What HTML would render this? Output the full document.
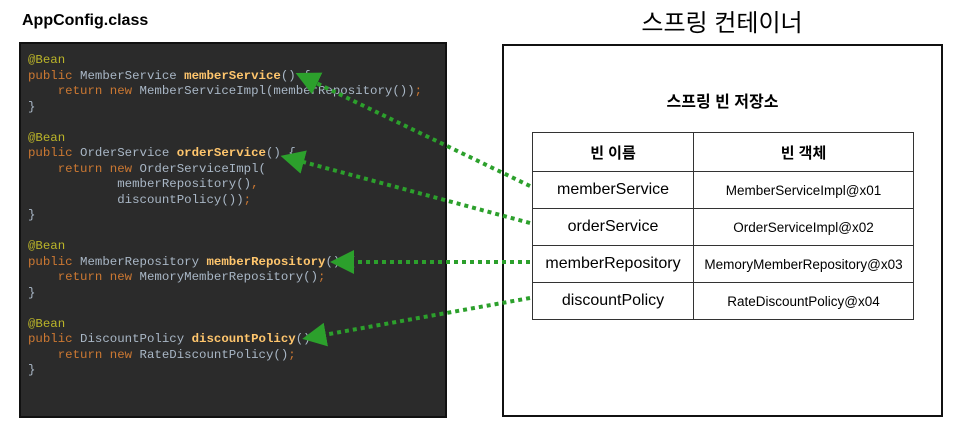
<!DOCTYPE html>
<html><head><meta charset="utf-8"><style>
body{margin:0;width:980px;height:438px;background:#fff;position:relative;overflow:hidden;font-family:"Liberation Sans","Noto Sans CJK KR",sans-serif}
.code{position:absolute;left:19px;top:42px;width:424px;height:372px;background:#2b2b2b;border:2px solid #111}
pre{margin:0;position:absolute;left:7px;top:9px;font-family:"Liberation Mono",monospace;font-size:12.4px;line-height:15.5px;color:#a9b7c6}
.a{color:#bbb529}.k{color:#cc7832}.f{color:#ffc66d;font-weight:bold}
.title{position:absolute;left:22px;top:12px;font-weight:bold;font-size:16px}
.ct{position:absolute;left:600px;top:3px;width:244px;text-align:center;font-size:24px}
.box{position:absolute;left:502px;top:44px;width:437px;height:369px;border:2px solid #111}
.sub{position:absolute;left:532px;top:88px;width:381px;text-align:center;font-weight:bold;font-size:16px}
table{position:absolute;left:532px;top:132px;width:382px;border-collapse:collapse}
td{border:1.5px solid #333;height:36px;text-align:center;padding:0}
td.n{width:160px;font-size:16px}td.v{font-size:13.5px}
th{border:1.5px solid #333;height:36px;font-size:15px}
svg{position:absolute;left:0;top:0}
</style></head><body>
<div class="title">AppConfig.class</div>
<div class="code"><pre><span class="a">@Bean</span>
<span class="k">public</span> MemberService <span class="f">memberService</span>() {
    <span class="k">return new</span> MemberServiceImpl(memberRepository())<span class="k">;</span>
}

<span class="a">@Bean</span>
<span class="k">public</span> OrderService <span class="f">orderService</span>() {
    <span class="k">return new</span> OrderServiceImpl(
            memberRepository()<span class="k">,</span>
            discountPolicy())<span class="k">;</span>
}

<span class="a">@Bean</span>
<span class="k">public</span> MemberRepository <span class="f">memberRepository</span>() {
    <span class="k">return new</span> MemoryMemberRepository()<span class="k">;</span>
}

<span class="a">@Bean</span>
<span class="k">public</span> DiscountPolicy <span class="f">discountPolicy</span>() {
    <span class="k">return new</span> RateDiscountPolicy()<span class="k">;</span>
}</pre></div>
<div class="ct">스프링 컨테이너</div>
<div class="box"></div>
<div class="sub">스프링 빈 저장소</div>
<table>
<tr><th>빈 이름</th><th>빈 객체</th></tr>
<tr><td class="n">memberService</td><td class="v">MemberServiceImpl@x01</td></tr>
<tr><td class="n">orderService</td><td class="v">OrderServiceImpl@x02</td></tr>
<tr><td class="n">memberRepository</td><td class="v">MemoryMemberRepository@x03</td></tr>
<tr><td class="n">discountPolicy</td><td class="v">RateDiscountPolicy@x04</td></tr>
</table>
<svg width="980" height="438">
<defs><marker id="m" markerWidth="6" markerHeight="6" refX="2" refY="3" orient="auto" markerUnits="strokeWidth"><path d="M0,0 L6,3 L0,6z" fill="#2ca02c"/></marker></defs>
<g stroke="#2ca02c" stroke-width="4" stroke-dasharray="4,4" fill="none" marker-end="url(#m)">
<line x1="530" y1="186" x2="310" y2="80"/>
<line x1="530" y1="223" x2="296" y2="160"/>
<line x1="530" y1="262" x2="346" y2="262"/>
<line x1="530" y1="298" x2="318" y2="336"/>
</g></svg>
</body></html>
